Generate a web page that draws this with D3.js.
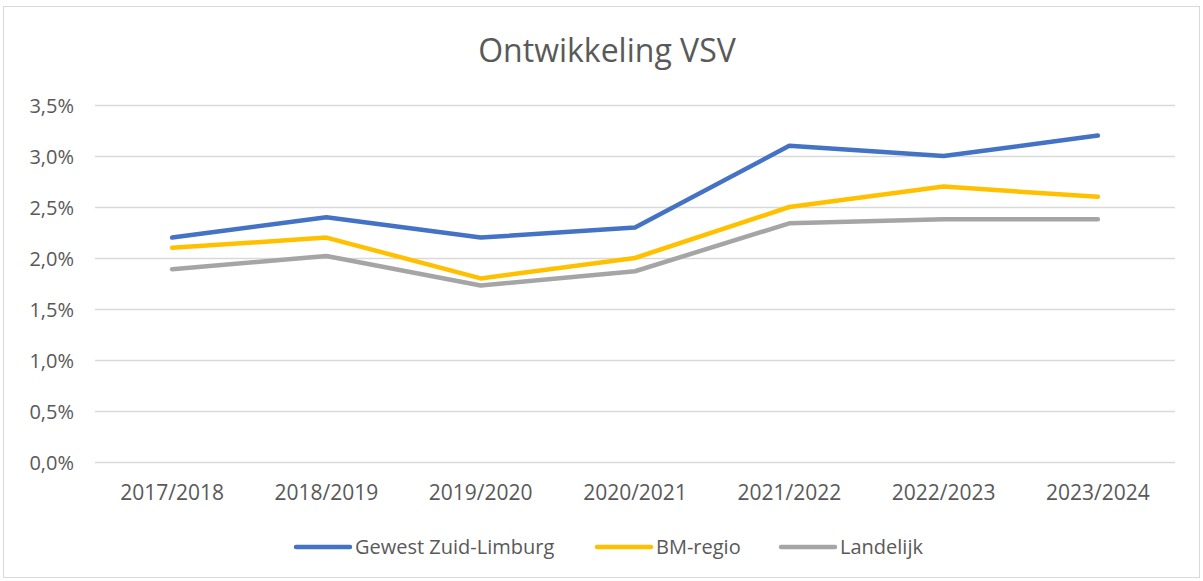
<!DOCTYPE html>
<html>
<head>
<meta charset="utf-8">
<script src="https://cdn.jsdelivr.net/npm/d3@7"></script>
<style>
  body { margin: 0; background: #fff; }
  svg text { font-family: "Open Sans", sans-serif; }
</style>
</head>
<body>
<div id="holder"></div>
<script>
var width = 1203;
var height = 581;
var margin = {top: 105, right: 28, bottom: 119, left: 95};

var years = ["2017/2018", "2018/2019", "2019/2020", "2020/2021", "2021/2022", "2022/2023", "2023/2024"];
var seriesNames = ["Gewest Zuid-Limburg", "BM-regio", "Landelijk"];
var seriesColors = ["#4472c4", "#ffc000", "#a5a5a5"];
var zuidLimburg = [2.2, 2.4, 2.2, 2.3, 3.1, 3.0, 3.2];
var bmRegio = [2.1, 2.2, 1.8, 2.0, 2.5, 2.7, 2.6];
var landelijk = [1.89, 2.02, 1.73, 1.87, 2.34, 2.38, 2.38];
var yTicks = [0, 0.5, 1, 1.5, 2, 2.5, 3, 3.5];

var allSeries = [zuidLimburg, bmRegio, landelijk];

var svg = d3.select("#holder")
  .append("svg")
  .attr("width", width)
  .attr("height", height);

// chart frame
svg.append("rect")
  .attr("x", 3.5)
  .attr("y", 6.5)
  .attr("width", width - 7)
  .attr("height", height - 10)
  .attr("fill", "#fff")
  .attr("stroke", "#d9d9d9");

var x = d3.scaleBand()
  .domain(years)
  .range([margin.left, width - margin.right]);

var y = d3.scaleLinear()
  .domain([0, 3.5])
  .range([height - margin.bottom, margin.top]);

svg.append("text")
  .attr("x", 607)
  .attr("y", 62)
  .attr("text-anchor", "middle")
  .attr("fill", "#595959")
  .style("font-size", "32px")
  .text("Ontwikkeling VSV");

// grid lines
svg.append("g")
  .selectAll("line")
  .data(yTicks)
  .enter().append("line")
    .attr("x1", margin.left)
    .attr("x2", width - margin.right)
    .attr("y1", d => Math.round(y(d)) + 0.5)
    .attr("y2", d => Math.round(y(d)) + 0.5)
    .attr("stroke", "#d9d9d9")
    .attr("stroke-width", 1.5);

var fmt = d => d.toFixed(1).replace(".", ",") + "%";

var yAxis = svg.append("g")
  .attr("transform", "translate(" + (margin.left - 21) + ",0)")
  .call(d3.axisLeft(y).tickValues(yTicks).tickFormat(fmt).tickSize(0));
yAxis.select(".domain").remove();
yAxis.selectAll("text")
  .attr("x", 0)
  .attr("fill", "#595959")
  .style("font-size", "20px")
  .attr("dy", "0.35em");

var xAxis = svg.append("g")
  .attr("transform", "translate(0," + (height - margin.bottom) + ")")
  .call(d3.axisBottom(x).tickSize(0));
xAxis.select(".domain").remove();
xAxis.selectAll("text")
  .attr("fill", "#595959")
  .style("font-size", "21px")
  .attr("dy", "0.35em")
  .attr("y", 31);

var line = d3.line()
  .x((d, i) => x(years[i]) + x.bandwidth() / 2)
  .y(d => y(d));

svg.append("g")
  .selectAll("path")
  .data(allSeries)
  .enter().append("path")
    .attr("d", line)
    .attr("fill", "none")
    .attr("stroke", (d, i) => seriesColors[i])
    .attr("stroke-width", 4.5)
    .attr("stroke-linejoin", "round")
    .attr("stroke-linecap", "round");

// legend
var legendX = [296, 597, 781];
var legend = svg.append("g")
  .selectAll("g")
  .data(seriesNames)
  .enter().append("g")
    .attr("transform", (d, i) => "translate(" + legendX[i] + ",547)");
legend.append("line")
  .attr("x1", 0)
  .attr("x2", 54)
  .attr("stroke", (d, i) => seriesColors[i])
  .attr("stroke-width", 4.5)
  .attr("stroke-linecap", "round");
legend.append("text")
  .attr("x", 59)
  .attr("dy", "0.35em")
  .attr("fill", "#595959")
  .style("font-size", "20px")
  .text(d => d);
</script>
</body>
</html>
